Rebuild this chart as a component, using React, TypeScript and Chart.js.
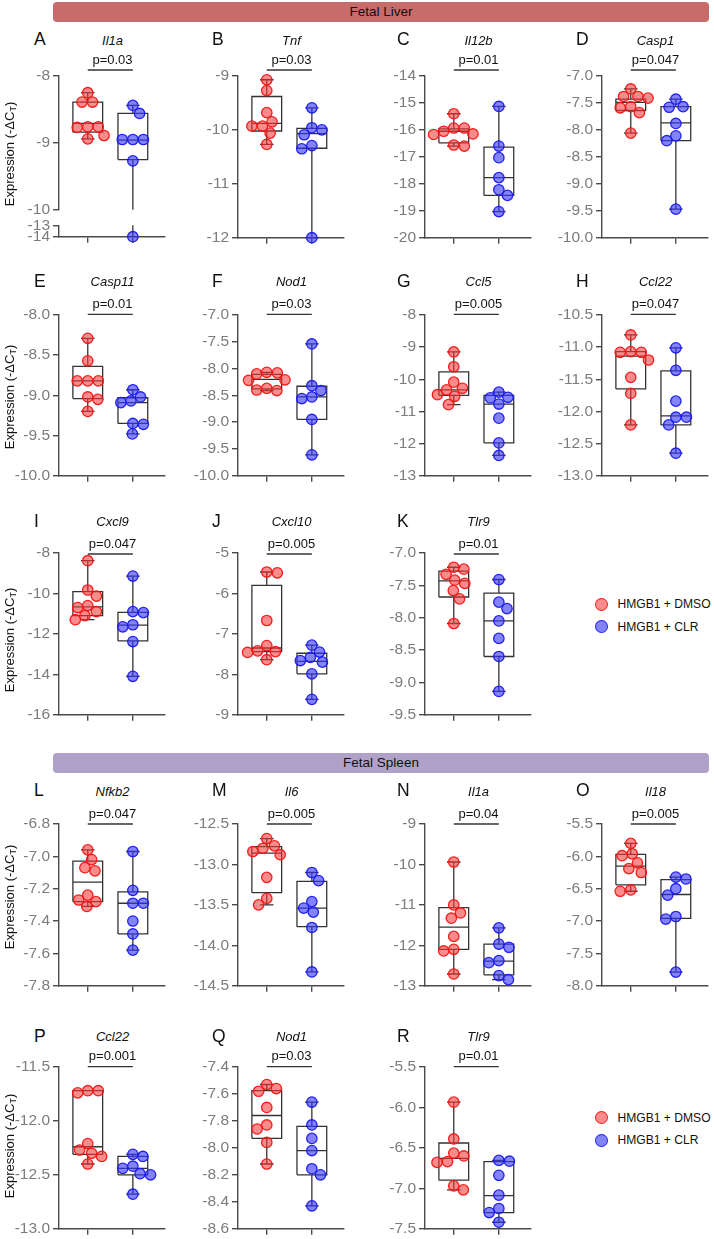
import React, { useEffect, useRef } from "react";
import { Chart, registerables } from "chart.js";

Chart.register(...registerables);

// ---------------- DATA ----------------
const groupNames = ["HMGB1 + DMSO", "HMGB1 + CLR"];
const panelLetters = ["A", "B", "C", "D", "E", "F", "G", "H", "I", "J", "K", "L", "M", "N", "O", "P", "Q", "R"];
const geneNames = ["Il1a", "Tnf", "Il12b", "Casp1", "Casp11", "Nod1", "Ccl5", "Ccl22", "Cxcl9", "Cxcl10", "Tlr9", "Nfkb2", "Il6", "Il1a", "Il18", "Ccl22", "Nod1", "Tlr9"];
const pValues = ["p=0.03", "p=0.03", "p=0.01", "p=0.047", "p=0.01", "p=0.03", "p=0.005", "p=0.047", "p=0.047", "p=0.005", "p=0.01", "p=0.047", "p=0.005", "p=0.04", "p=0.005", "p=0.001", "p=0.03", "p=0.01"];
const yMins = [-10, -12, -20, -10, -10, -10, -13, -13, -16, -9, -9.5, -7.8, -14.5, -13, -8, -13, -8.6, -7.5];
const yMaxs = [-8, -9, -14, -7, -8, -7, -8, -10.5, -8, -5, -7, -6.8, -12.5, -9, -5.5, -11.5, -7.4, -5.5];
const ySteps = [1, 1, 1, 0.5, 0.5, 0.5, 1, 0.5, 2, 1, 0.5, 0.2, 0.5, 1, 0.5, 0.5, 0.2, 0.5];
// panel A broken axis: lower segment
const aBreakMin = -14;
const aBreakMax = -13;

// values (-dCT) per group; boxes are [Q1, median, Q3]
const A_dmso = [-8.25, -8.39, -8.39, -8.76, -8.76, -8.77, -8.89, -8.94];
const A_clr = [-8.44, -8.56, -8.95, -8.95, -8.95, -9.27, -14.0];
const A_boxDmso = [-8.84, -8.71, -8.39];
const A_boxClr = [-9.25, -8.96, -8.56];

const B_dmso = [-9.07, -9.27, -9.68, -9.85, -9.93, -9.93, -10.06, -10.27];
const B_clr = [-9.59, -9.96, -10.0, -10.09, -10.29, -10.35, -12.0];
const B_boxDmso = [-10.02, -9.88, -9.38];
const B_boxClr = [-10.34, -10.07, -9.97];

const C_dmso = [-15.4, -15.93, -15.93, -16.05, -16.15, -16.17, -16.56, -16.6];
const C_clr = [-15.13, -16.6, -17.03, -17.77, -18.22, -18.43, -19.03];
const C_boxDmso = [-16.48, -16.05, -15.96];
const C_boxClr = [-18.43, -17.77, -16.64];

const D_dmso = [-7.24, -7.38, -7.38, -7.41, -7.57, -7.59, -7.68, -8.06];
const D_clr = [-7.43, -7.57, -7.58, -7.88, -8.11, -8.2, -9.47];
const D_boxDmso = [-7.64, -7.49, -7.43];
const D_boxClr = [-8.2, -7.87, -7.57];

const E_dmso = [-8.29, -8.57, -8.82, -8.82, -8.82, -9.02, -9.05, -9.2];
const E_clr = [-8.93, -9.02, -9.07, -9.09, -9.35, -9.36, -9.48];
const E_boxDmso = [-9.04, -8.82, -8.64];
const E_boxClr = [-9.35, -9.09, -9.03];

const F_dmso = [-8.07, -8.08, -8.1, -8.21, -8.22, -8.37, -8.4, -8.41];
const F_clr = [-7.54, -8.32, -8.41, -8.53, -8.56, -8.95, -9.61];
const F_boxDmso = [-8.38, -8.2, -8.11];
const F_boxClr = [-8.95, -8.53, -8.33];

const G_dmso = [-9.15, -9.61, -10.09, -10.28, -10.33, -10.48, -10.53, -10.79];
const G_clr = [-10.4, -10.56, -10.58, -10.77, -11.21, -11.98, -12.37];
const G_boxDmso = [-10.5, -10.33, -9.77];
const G_boxClr = [-11.98, -10.77, -10.5];

const H_dmso = [-10.81, -11.07, -11.08, -11.08, -11.2, -11.47, -11.72, -12.21];
const H_clr = [-11.01, -11.36, -11.84, -12.09, -12.09, -12.21, -12.65];
const H_boxDmso = [-11.65, -11.14, -11.07];
const H_boxClr = [-12.21, -12.07, -11.37];

const I_dmso = [-8.38, -9.83, -10.13, -10.6, -10.7, -10.9, -11.1, -11.3];
const I_clr = [-9.14, -10.9, -10.95, -11.55, -11.65, -12.38, -14.1];
const I_boxDmso = [-11.1, -10.67, -9.91];
const I_boxClr = [-12.35, -11.57, -10.94];

const J_dmso = [-5.47, -5.49, -6.67, -7.29, -7.42, -7.44, -7.46, -7.64];
const J_clr = [-7.28, -7.45, -7.58, -7.66, -7.7, -7.99, -8.62];
const J_boxDmso = [-7.44, -7.35, -5.8];
const J_boxClr = [-7.99, -7.68, -7.48];

const K_dmso = [-7.22, -7.25, -7.33, -7.42, -7.47, -7.58, -7.71, -8.09];
const K_clr = [-7.41, -7.76, -7.86, -8.05, -8.32, -8.6, -9.14];
const K_boxDmso = [-7.68, -7.43, -7.28];
const K_boxClr = [-8.6, -8.05, -7.62];

const L_dmso = [-6.96, -7.02, -7.07, -7.09, -7.24, -7.27, -7.28, -7.31];
const L_clr = [-6.97, -7.21, -7.29, -7.29, -7.4, -7.48, -7.58];
const L_boxDmso = [-7.28, -7.16, -7.03];
const L_boxClr = [-7.48, -7.29, -7.22];

const M_dmso = [-12.68, -12.77, -12.8, -12.84, -12.88, -13.16, -13.42, -13.5];
const M_clr = [-13.1, -13.2, -13.46, -13.54, -13.59, -13.78, -14.33];
const M_boxDmso = [-13.35, -12.86, -12.78];
const M_boxClr = [-13.77, -13.54, -13.21];

const N_dmso = [-9.94, -11.0, -11.2, -11.33, -11.78, -12.1, -12.14, -12.71];
const N_clr = [-11.57, -11.97, -12.05, -12.38, -12.43, -12.75, -12.85];
const N_boxDmso = [-12.1, -11.55, -11.07];
const N_boxClr = [-12.73, -12.39, -11.97];

const O_dmso = [-5.8, -5.96, -5.99, -6.1, -6.19, -6.25, -6.52, -6.54];
const O_clr = [-6.32, -6.35, -6.5, -6.6, -6.93, -6.97, -7.79];
const O_boxDmso = [-6.44, -6.15, -5.97];
const O_boxClr = [-6.96, -6.59, -6.36];

const P_dmso = [-11.72, -11.72, -11.74, -12.21, -12.27, -12.3, -12.33, -12.4];
const P_clr = [-12.31, -12.33, -12.42, -12.44, -12.49, -12.5, -12.68];
const P_boxDmso = [-12.31, -12.24, -11.72];
const P_boxClr = [-12.5, -12.44, -12.33];

const Q_dmso = [-7.53, -7.56, -7.58, -7.7, -7.83, -7.86, -7.96, -8.12];
const Q_clr = [-7.66, -7.83, -7.93, -8.02, -8.155, -8.2, -8.43];
const Q_boxDmso = [-7.93, -7.76, -7.575];
const Q_boxClr = [-8.2, -8.02, -7.84];

const R_dmso = [-5.935, -6.39, -6.565, -6.6, -6.67, -6.68, -6.97, -7.02];
const R_clr = [-6.655, -6.665, -6.84, -7.085, -7.25, -7.3, -7.42];
const R_boxDmso = [-6.9, -6.63, -6.44];
const R_boxClr = [-7.3, -7.09, -6.67];

const dmsoValues = [A_dmso, B_dmso, C_dmso, D_dmso, E_dmso, F_dmso, G_dmso, H_dmso, I_dmso, J_dmso, K_dmso, L_dmso, M_dmso, N_dmso, O_dmso, P_dmso, Q_dmso, R_dmso];
const clrValues = [A_clr, B_clr, C_clr, D_clr, E_clr, F_clr, G_clr, H_clr, I_clr, J_clr, K_clr, L_clr, M_clr, N_clr, O_clr, P_clr, Q_clr, R_clr];
const dmsoBoxes = [A_boxDmso, B_boxDmso, C_boxDmso, D_boxDmso, E_boxDmso, F_boxDmso, G_boxDmso, H_boxDmso, I_boxDmso, J_boxDmso, K_boxDmso, L_boxDmso, M_boxDmso, N_boxDmso, O_boxDmso, P_boxDmso, Q_boxDmso, R_boxDmso];
const clrBoxes = [A_boxClr, B_boxClr, C_boxClr, D_boxClr, E_boxClr, F_boxClr, G_boxClr, H_boxClr, I_boxClr, J_boxClr, K_boxClr, L_boxClr, M_boxClr, N_boxClr, O_boxClr, P_boxClr, Q_boxClr, R_boxClr];

// ---------------- LAYOUT / STYLE ----------------
const FONT = "'Liberation Sans', Arial, Helvetica, sans-serif";
const RED_FILL = "rgba(250, 55, 55, 0.58)";
const RED_LINE = "rgba(245, 20, 20, 0.95)";
const BLUE_FILL = "rgba(55, 55, 250, 0.62)";
const BLUE_LINE = "rgba(25, 25, 240, 0.95)";
const AXIS = "#4a4a4a";
const BOXC = "#333333";
const TICKC = "#7c7c7c";

const X_MIN = -0.638;
const X_MAX = 1.702;
const PLOT_W = 110;
const Y_AXIS_W = 56;
const X_AXIS_H = 10;
const PAD_TOP = 14;
const BOX_HALF = 0.33;
const CAP_HALF = 0.15;
const PT_R = 5.2;
const DIAM = 10.6;
const TICK_SIZE = 15.5;

const COL_X = [59, 238, 425, 602];
const LETTER_X = [34, 212, 397, 576];
const ROWS = [
  { top: 76, bottom: 240, letterY: 39.7, geneY: 40, pY: 59, brY: 70, titleY: 153.7 },
  { top: 315, bottom: 478, letterY: 281.7, geneY: 280.7, pY: 303, brY: 314.3, titleY: 396.6 },
  { top: 553, bottom: 717, letterY: 521.7, geneY: 520.5, pY: 543, brY: 554, titleY: 640 },
  { top: 824, bottom: 988, letterY: 791, geneY: 790.5, pY: 813.3, brY: 824, titleY: 897 },
  { top: 1067, bottom: 1231, letterY: 1036.7, geneY: 1035.7, pY: 1055.3, brY: 1066.7, titleY: 1146 },
];
const PANEL_POS = [
  [0, 0], [0, 1], [0, 2], [0, 3],
  [1, 0], [1, 1], [1, 2], [1, 3],
  [2, 0], [2, 1], [2, 2],
  [3, 0], [3, 1], [3, 2], [3, 3],
  [4, 0], [4, 1], [4, 2],
];
const LEGEND_Y = [[604.3, 626.6], [1117.7, 1140]];

Chart.defaults.font.family = FONT;

// beeswarm horizontal offsets (pixels), computed from the values
function swarm(vals: number[], pxPerUnit: number): number[] {
  const order = vals.map((_, i) => i).sort((a, b) => vals[b] - vals[a]);
  const placed: { x: number; y: number }[] = [];
  const out: number[] = new Array(vals.length).fill(0);
  for (const i of order) {
    const y = -vals[i] * pxPerUnit;
    let chosen = 0;
    const sum = placed.reduce((s, p) => s + p.x, 0);
    for (let k = 0; k < 400; k++) {
      const st = k * 0.5;
      const cands = k === 0 ? [0] : sum > 0 ? [-st, st] : [st, -st];
      let ok: number | null = null;
      for (const c of cands) {
        if (placed.every((p) => (p.x - c) ** 2 + (p.y - y) ** 2 >= DIAM * DIAM)) {
          ok = c;
          break;
        }
      }
      if (ok !== null) {
        chosen = ok;
        break;
      }
    }
    placed.push({ x: chosen, y });
    out[i] = chosen;
  }
  return out;
}

function boxLines(cx: number, vals: number[], q: number[]) {
  const [q1, med, q3] = q;
  const lo = Math.min(...vals);
  const hi = Math.max(...vals);
  const w = BOX_HALF;
  const c = CAP_HALF;
  const gap = { x: cx, y: null as any };
  return [
    { x: cx - w, y: q1 }, { x: cx + w, y: q1 }, { x: cx + w, y: q3 }, { x: cx - w, y: q3 }, { x: cx - w, y: q1 }, gap,
    { x: cx - w, y: med }, { x: cx + w, y: med }, gap,
    { x: cx, y: q3 }, { x: cx, y: hi }, gap,
    { x: cx, y: q1 }, { x: cx, y: lo }, gap,
    { x: cx - c, y: hi }, { x: cx + c, y: hi }, gap,
    { x: cx - c, y: lo }, { x: cx + c, y: lo },
  ];
}

const bracketPlugin = {
  id: "pbracket",
  afterDraw(chart: any, _args: any, opts: any) {
    if (opts == null || opts.offset == null) return;
    const { ctx, chartArea, scales } = chart;
    const y = chartArea.top + opts.offset;
    ctx.save();
    ctx.strokeStyle = BOXC;
    ctx.lineWidth = 1.3;
    ctx.beginPath();
    ctx.moveTo(scales.x.getPixelForValue(0), y);
    ctx.lineTo(scales.x.getPixelForValue(1), y);
    ctx.stroke();
    ctx.restore();
  },
};

type Sub = {
  key: string;
  left: number;
  top: number;
  width: number;
  height: number;
  padTop: number;
  padBottom: number;
  min: number;
  max: number;
  step: number;
  showX: boolean;
  bracket: number | null;
  lineClip: number;
  swarmPx: number;
  dmso: number[];
  clr: number[];
  qd: number[];
  qc: number[];
};

function buildConfig(s: Sub): any {
  const pxX = PLOT_W / (X_MAX - X_MIN);
  const offD = swarm(s.dmso, s.swarmPx).map((p) => p / pxX);
  const offC = swarm(s.clr, s.swarmPx).map((p) => p / pxX);
  const dec = s.step < 1 ? 1 : 0;
  const pts = (vals: number[], offs: number[], cx: number, fill: string, line: string, label: string) => ({
    label,
    data: vals.map((v, i) => ({ x: cx + offs[i], y: v })),
    pointRadius: PT_R,
    pointBackgroundColor: fill,
    pointBorderColor: line,
    pointBorderWidth: 1.3,
    showLine: false,
    clip: false,
  });
  const lines = (vals: number[], q: number[], cx: number) => ({
    data: boxLines(cx, vals, q),
    showLine: true,
    spanGaps: false,
    pointRadius: 0,
    borderColor: BOXC,
    borderWidth: 1.3,
    fill: false,
    tension: 0,
    clip: s.lineClip,
  });
  return {
    type: "scatter",
    data: {
      datasets: [
        pts(s.dmso, offD, 0, RED_FILL, RED_LINE, groupNames[0]),
        pts(s.clr, offC, 1, BLUE_FILL, BLUE_LINE, groupNames[1]),
        lines(s.dmso, s.qd, 0),
        lines(s.clr, s.qc, 1),
      ],
    },
    options: {
      responsive: false,
      maintainAspectRatio: false,
      animation: false,
      events: [],
      layout: { padding: { top: s.padTop, right: 2, bottom: s.padBottom, left: 0 } },
      plugins: {
        legend: { display: false },
        tooltip: { enabled: false },
        pbracket: { offset: s.bracket },
      },
      scales: {
        x: {
          type: "linear",
          min: X_MIN,
          max: X_MAX,
          display: s.showX,
          afterBuildTicks: (sc: any) => {
            sc.ticks = [{ value: 0 }, { value: 1 }];
          },
          afterFit: (sc: any) => {
            if (s.showX) sc.height = X_AXIS_H;
          },
          ticks: { display: false },
          grid: { display: true, drawOnChartArea: false, drawTicks: true, tickLength: 6, color: AXIS, lineWidth: 1.4 },
          border: { display: true, color: AXIS, width: 1.4 },
        },
        y: {
          type: "linear",
          min: s.min,
          max: s.max,
          afterFit: (sc: any) => {
            sc.width = Y_AXIS_W;
          },
          ticks: {
            stepSize: s.step,
            autoSkip: false,
            color: TICKC,
            padding: 3,
            font: { family: FONT, size: TICK_SIZE },
            callback: (v: any) => Number(v).toFixed(dec),
          },
          grid: { display: true, drawOnChartArea: false, drawTicks: true, tickLength: 6, color: AXIS, lineWidth: 1.4 },
          border: { display: true, color: AXIS, width: 1.4 },
        },
      },
    },
    plugins: [bracketPlugin],
  };
}

function SubChart({ s }: { s: Sub }) {
  const ref = useRef<HTMLCanvasElement | null>(null);
  useEffect(() => {
    if (!ref.current) return;
    const chart = new Chart(ref.current, buildConfig(s));
    return () => chart.destroy();
  }, []);
  return (
    <canvas
      ref={ref}
      width={s.width}
      height={s.height}
      style={{ position: "absolute", left: s.left, top: s.top, width: s.width, height: s.height }}
    />
  );
}

function buildSubs(): Sub[] {
  const subs: Sub[] = [];
  panelLetters.forEach((letter, i) => {
    const [r, c] = PANEL_POS[i];
    const row = ROWS[r];
    const left = COL_X[c] - Y_AXIS_W;
    const width = Y_AXIS_W + PLOT_W + 2;
    const base = {
      left,
      width,
      dmso: dmsoValues[i],
      clr: clrValues[i],
      qd: dmsoBoxes[i],
      qc: clrBoxes[i],
    };
    if (i === 0) {
      // broken axis: upper segment -10..-8, lower segment -14..-13
      const upTop = row.top;
      const upBottom = 212;
      const upH = upBottom - upTop;
      const pxU = upH / (yMaxs[0] - yMins[0]);
      subs.push({
        ...base,
        key: letter + "-top",
        top: upTop - PAD_TOP,
        height: PAD_TOP + upH + 10,
        padTop: PAD_TOP,
        padBottom: 10,
        min: yMins[0],
        max: yMaxs[0],
        step: ySteps[0],
        showX: false,
        bracket: row.brY - row.top,
        lineClip: 0,
        swarmPx: pxU,
      });
      const loTop = 225;
      const loH = row.bottom - 1 - loTop;
      subs.push({
        ...base,
        key: letter + "-bottom",
        top: loTop - 12,
        height: 12 + loH + X_AXIS_H,
        padTop: 12,
        padBottom: 0,
        min: aBreakMin,
        max: aBreakMax,
        step: 1,
        showX: true,
        bracket: null,
        lineClip: 0,
        swarmPx: pxU,
      });
    } else {
      const plotH = row.bottom - row.top;
      subs.push({
        ...base,
        key: letter,
        top: row.top - PAD_TOP,
        height: PAD_TOP + plotH + X_AXIS_H,
        padTop: PAD_TOP,
        padBottom: 0,
        min: yMins[i],
        max: yMaxs[i],
        step: ySteps[i],
        showX: true,
        bracket: row.brY - row.top,
        lineClip: 3,
        swarmPx: plotH / (yMaxs[i] - yMins[i]),
      });
    }
  });
  return subs;
}

const centered = (x: number, y: number): React.CSSProperties => ({
  position: "absolute",
  left: x,
  top: y,
  transform: "translate(-50%, -50%)",
  whiteSpace: "nowrap",
  lineHeight: 1,
});

function Header({ top, color, text }: { top: number; color: string; text: string }) {
  return (
    <div
      style={{
        position: "absolute",
        left: 53,
        top,
        width: 656,
        height: 20.5,
        background: color,
        borderRadius: 4,
        display: "flex",
        alignItems: "center",
        justifyContent: "center",
        fontSize: 13.5,
        color: "#111",
      }}
    >
      {text}
    </div>
  );
}

function Legend({ ys }: { ys: number[] }) {
  const items = [
    { fill: RED_FILL, line: RED_LINE, label: groupNames[0] },
    { fill: BLUE_FILL, line: BLUE_LINE, label: groupNames[1] },
  ];
  return (
    <>
      {items.map((it, k) => (
        <React.Fragment key={k}>
          <div
            style={{
              position: "absolute",
              left: 601.7 - 6.5,
              top: ys[k] - 6.5,
              width: 13,
              height: 13,
              boxSizing: "border-box",
              borderRadius: "50%",
              background: it.fill,
              border: `1.5px solid ${it.line}`,
            }}
          />
          <div style={{ position: "absolute", left: 617.5, top: ys[k], transform: "translateY(-50%)", fontSize: 12.1, lineHeight: 1, whiteSpace: "nowrap", color: "#111" }}>
            {it.label}
          </div>
        </React.Fragment>
      ))}
    </>
  );
}

export default function App() {
  const subs = buildSubs();
  return (
    <div
      style={{
        position: "absolute",
        left: 0,
        top: 0,
        width: 714,
        height: 1239,
        overflow: "hidden",
        background: "#fff",
        fontFamily: FONT,
        color: "#111",
      }}
    >
      <Header top={1.5} color="#c76c6a" text="Fetal Liver" />
      <Header top={752.7} color="#b0a1c8" text="Fetal Spleen" />

      {subs.map((s) => (
        <SubChart key={s.key} s={s} />
      ))}

      {panelLetters.map((letter, i) => {
        const [r, c] = PANEL_POS[i];
        const row = ROWS[r];
        const cx = COL_X[c] + 53.5;
        return (
          <React.Fragment key={letter}>
            <div style={{ position: "absolute", left: LETTER_X[c], top: row.letterY, transform: "translateY(-50%)", fontSize: 17.5, lineHeight: 1 }}>
              {letter}
            </div>
            <div style={{ ...centered(cx, row.geneY), fontSize: 13, fontStyle: "italic" }}>{geneNames[i]}</div>
            <div style={{ ...centered(cx, row.pY), fontSize: 13 }}>{pValues[i]}</div>
          </React.Fragment>
        );
      })}

      {ROWS.map((row, r) => (
        <div key={"yt" + r} style={{ ...centered(8.5, row.titleY), transform: "translate(-50%, -50%) rotate(-90deg)", fontSize: 13 }}>
          Expression (-ΔC<sub style={{ fontSize: 9, verticalAlign: "-2px", lineHeight: 0 }}>T</sub>)
        </div>
      ))}

      <Legend ys={LEGEND_Y[0]} />
      <Legend ys={LEGEND_Y[1]} />
    </div>
  );
}
